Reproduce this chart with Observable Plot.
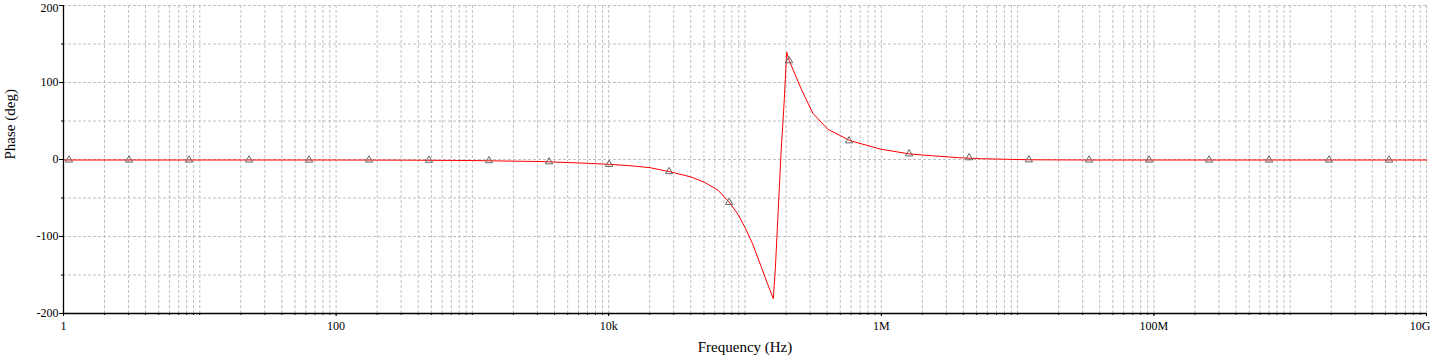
<!DOCTYPE html>
<html>
<head>
<meta charset="utf-8">
<script src="https://cdn.jsdelivr.net/npm/d3@7"></script>
<script src="https://cdn.jsdelivr.net/npm/@observablehq/plot@0.6"></script>
<style>
  html, body { margin: 0; padding: 0; background: #fff; }
  #chart { width: 1430px; height: 360px; }
</style>
</head>
<body>
<div id="chart"></div>
<script>
// Curve samples (frequency in Hz, phase in degrees)
const curveFreq = [1, 100, 316, 1000, 3162, 6310, 10000, 14450, 19950, 28180, 39810, 50120, 63100, 76900, 89130, 100000, 112200, 130000, 144500, 160000, 165600, 182000, 192800, 200400, 209400, 255300, 311200, 400900, 587500, 986000, 1610000, 2300000, 3670000, 5300000, 12000000, 31600000, 1e10];
const curvePhase = [0, 0, -0.2, -0.7, -2, -4, -5.6, -7.5, -10, -15.5, -22, -29, -39.5, -56, -72, -89, -108, -138, -160, -180, -141, 7, 80, 140, 129, 93, 61, 40, 25, 14, 7.8, 5.6, 3, 1.7, 0.3, 0, 0];

// Triangle markers
const markerFreq = [1.088, 3.0, 8.26, 22.8, 62.8, 173, 476, 1313, 3622, 9980, 27500, 75700, 208900, 575000, 1585000, 4370000, 12000000, 33200000, 91500000, 252000000, 694000000, 1910000000, 5270000000];
const markerPhase = [0, 0, 0, 0, 0, 0, -0.2, -0.8, -2.3, -5.6, -15, -55, 129, 25, 8, 3, 0.3, 0, 0, 0, 0, 0, 0];

// Axis labels
const xTickValues = [1, 100, 1e4, 1e6, 1e8, 1e10];
const xTickLabels = ["1", "100", "10k", "1M", "100M", "10G"];
const yTickValues = [-200, -100, 0, 100, 200];
const yTickLabels = ["-200", "-100", "0", "100", "200"];
const yGridValues = [-150, -100, -50, 0, 50, 100, 150, 200];
const yMinorTicks = [-150, -50, 50, 150];

// minor decade positions (1..9 x 10^k) for grid & ticks
const xGridValues = [];
for (let k = 0; k < 10; k++) for (let m = 1; m <= 9; m++) xGridValues.push(m * Math.pow(10, k));
xGridValues.push(1e10);

const gridStyle = {stroke: "#c0c0c0", strokeDasharray: "3,2", strokeWidth: 1};
const labelFont = "'Liberation Serif', 'Times New Roman', serif";

const chart = Plot.plot({
  width: 1430,
  height: 360,
  marginLeft: 63,
  marginRight: 4,
  marginTop: 5,
  marginBottom: 47,
  x: {type: "log", domain: [1, 1e10], axis: null},
  y: {domain: [-200, 200], axis: null},
  style: {fontFamily: labelFont, fontSize: "12px", background: "#fff", color: "#000"},
  marks: [
    Plot.ruleX(xGridValues.filter(v => v > 1), gridStyle),
    Plot.ruleY(yGridValues, gridStyle),
    // axis ticks (short rules just outside the frame)
    Plot.ruleX(xGridValues, {x: d => d, y1: -200, y2: -202.6, stroke: "#000"}),
    Plot.ruleX(xTickValues, {x: d => d, y1: -200, y2: -204, stroke: "#000"}),
    Plot.ruleY(yMinorTicks, {y: d => d, x1: 1, x2: 0.967, stroke: "#000"}),
    Plot.ruleY(yTickValues, {y: d => d, x1: 1, x2: 0.935, stroke: "#000"}),
    // axis lines
    Plot.ruleY([-200], {stroke: "#000", strokeWidth: 1.3}),
    Plot.ruleX([1], {stroke: "#000", strokeWidth: 1.3}),
    // x tick labels
    Plot.text(xTickValues.slice(0, -1), {x: d => d, text: (d, i) => xTickLabels[i], frameAnchor: "bottom", lineAnchor: "top", dy: 8, fontSize: 12, fill: "#000"}),
    Plot.text(xTickValues.slice(-1), {x: d => d, text: () => xTickLabels[xTickLabels.length - 1], frameAnchor: "bottom", lineAnchor: "top", textAnchor: "end", dy: 8, dx: 4, fontSize: 12, fill: "#000"}),
    // y tick labels
    Plot.text(yTickValues.slice(0, -1), {y: d => d, text: (d, i) => yTickLabels[i], frameAnchor: "left", textAnchor: "end", dx: -5, fontSize: 12, fill: "#000"}),
    Plot.text(yTickValues.slice(-1), {y: d => d, text: () => yTickLabels[yTickLabels.length - 1], frameAnchor: "left", textAnchor: "end", dx: -5, dy: 3, fontSize: 12, fill: "#000"}),
    // axis titles
    Plot.text(["Frequency (Hz)"], {frameAnchor: "bottom", dy: 38, fontSize: 15, fill: "#000"}),
    Plot.text(["Phase (deg)"], {frameAnchor: "left", dx: -53, rotate: -90, fontSize: 15, fill: "#000"}),
    // data (half-pixel shift keeps the flat parts crisp)
    Plot.line(curveFreq.map((f, i) => ({f, p: curvePhase[i]})), {x: "f", y: "p", stroke: "#ff0000", strokeWidth: 1, dx: 0.5, dy: 0.5}),
    Plot.dot(markerFreq.map((f, i) => ({f, p: markerPhase[i]})), {x: "f", y: "p", symbol: "triangle", r: 2.7, stroke: "#666666", fill: "none", strokeWidth: 1, dx: 0.5, dy: 0.5})
  ]
});
document.getElementById("chart").appendChild(chart);
</script>
</body>
</html>
